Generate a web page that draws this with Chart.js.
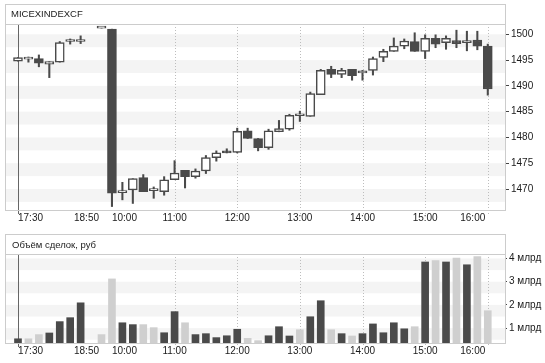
<!DOCTYPE html>
<html><head><meta charset="utf-8">
<script src="https://cdn.jsdelivr.net/npm/chart.js@4"></script>
<style>
html,body{margin:0;padding:0;background:#fff;}
#wrap{position:relative;width:545px;height:363px;overflow:hidden;font-family:'Liberation Sans',Arial,sans-serif;}
.c{position:absolute;left:0;}
.frame{position:absolute;border:1px solid #cccccc;box-sizing:border-box;pointer-events:none;}
.sep{position:absolute;height:1px;background:#cccccc;pointer-events:none;}
.ttl{position:absolute;font-size:9.5px;color:#1a1a1a;line-height:12px;white-space:nowrap;}
</style></head>
<body><div id="wrap">
<div class="c" style="top:0;width:545px;height:230px"><canvas id="top"></canvas></div>
<div class="c" style="top:230px;width:545px;height:133px"><canvas id="vol"></canvas></div>
<div class="frame" style="left:5px;top:4px;width:501px;height:207px"></div>
<div class="sep" style="left:5px;top:24px;width:501px"></div>
<div class="frame" style="left:5px;top:234px;width:501px;height:110px"></div>
<div class="sep" style="left:5px;top:254px;width:501px"></div>
<div class="ttl" style="left:11px;top:8px">MICEXINDEXCF</div>
<div class="ttl" style="left:12px;top:239px">Объём сделок, руб</div>
</div>
<script>
// ---- data ----
const times = ['17:30','17:40','17:50','18:00','18:10','18:20','18:30','18:40','18:50',
  '10:00','10:10','10:20','10:30','10:40','10:50','11:00','11:10','11:20','11:30','11:40','11:50',
  '12:00','12:10','12:20','12:30','12:40','12:50','13:00','13:10','13:20','13:30','13:40','13:50',
  '14:00','14:10','14:20','14:30','14:40','14:50','15:00','15:10','15:20','15:30','15:40','15:50','16:00'];
const open  = [1494.8,1495.2,1495.3,1494.2,1494.6,1498.6,1498.6,null,1501.2,
  1501.0,1469.3,1469.8,1472.2,1469.7,1469.5,1471.8,1473.6,1472.4,1473.5,1476.1,1477.3,
  1477.1,1481.3,1479.8,1478.0,1481.1,1481.6,1484.2,1484.1,1488.3,1493.2,1492.2,1493.2,
  1492.5,1493.0,1495.5,1496.7,1497.7,1498.6,1496.7,1499.2,1498.4,1498.8,1498.4,1498.9,1497.7];
const high  = [1495.5,1495.6,1496.0,1494.7,1498.6,1499.1,1499.7,null,1501.2,
  1501.0,1471.3,1472.0,1472.8,1470.4,1472.4,1475.5,1473.6,1473.9,1476.5,1477.4,1477.8,
  1481.8,1481.8,1479.8,1481.6,1483.3,1484.5,1485.1,1488.8,1493.2,1493.8,1493.4,1493.2,
  1493.0,1495.6,1497.1,1499.3,1499.1,1500.3,1499.9,1499.9,1499.7,1500.8,1500.6,1500.6,1498.1];
const low   = [1494.8,1494.6,1493.7,1491.6,1494.6,1498.1,1498.2,null,1501.2,
  1466.6,1467.9,1467.2,1469.5,1468.2,1468.8,1471.8,1470.2,1472.1,1473.0,1475.4,1477.0,
  1477.0,1479.8,1477.4,1477.7,1481.1,1481.4,1483.1,1484.1,1488.3,1491.6,1491.6,1491.1,
  1491.1,1492.1,1494.7,1496.7,1497.2,1496.7,1495.3,1497.4,1497.1,1497.4,1496.8,1497.0,1488.2];
const close = [1495.5,1495.2,1494.4,1494.7,1498.4,1498.6,1499.0,null,1501.2,
  1469.2,1469.7,1472.0,1469.5,1469.7,1471.8,1473.1,1472.4,1473.5,1476.1,1477.0,1477.0,
  1481.2,1479.8,1478.0,1481.3,1481.7,1484.3,1484.2,1488.5,1493.0,1492.2,1493.0,1492.0,
  1492.9,1495.3,1496.7,1497.7,1498.7,1496.7,1499.2,1498.1,1499.2,1498.2,1498.8,1497.7,1489.4];
// trade volume, billions of roubles
const volume = [0.54,0.54,0.72,0.79,1.28,1.45,2.09,null,0.72,
  3.12,1.23,1.15,1.15,1.02,0.80,1.71,1.23,0.72,0.76,0.59,0.67,
  0.95,0.56,0.46,0.67,1.06,0.66,0.93,1.49,2.18,0.93,0.76,0.66,
  0.76,1.18,0.80,1.23,0.97,1.06,3.85,3.91,3.85,4.02,3.73,4.08,1.75];
const volumeLight = [0,1,1,0,0,0,0,0,1,
  1,0,0,1,1,0,0,1,0,0,0,0,
  0,1,1,0,0,0,1,0,0,1,0,1,
  0,0,0,0,0,1,0,1,0,1,0,1,1];
const priceTicks = [1470,1475,1480,1485,1490,1495,1500];
const volumeTicks = [1,2,3,4];
const xLabelIdx = [0,8,9,15,21,27,33,39,45];
const xLabelAlign = ['left','right','left','center','center','center','center','center','right'];
const solidLineIdx = [0];
const dottedLineIdx = [15,21,27,33,39,45];

// ---- styling ----
const DARK = '#4a4a4a', LIGHT = '#cfcfcf', BAND = '#f4f4f4', TXT = '#1a1a1a';
const FONT = "'Liberation Sans', Arial, sans-serif";
const xMin = -1.245, xMax = 46.65;

const panelPlugin = {
  id: 'panel',
  beforeDatasetsDraw(chart, args, opts) {
    const {ctx, chartArea: a, scales: {x, y}} = chart;
    ctx.save();
    ctx.beginPath(); ctx.rect(a.left, a.top, a.right - a.left, a.bottom - a.top + 6); ctx.clip();
    ctx.fillStyle = BAND;
    opts.bands.forEach(v => {
      const y1 = y.getPixelForValue(v), y2 = y.getPixelForValue(v - opts.half);
      const t = Math.max(a.top, Math.min(y1, y2)), b = Math.min(a.bottom, Math.max(y1, y2));
      if (b > t) ctx.fillRect(a.left, t, a.right - a.left, b - t);
    });
    ctx.lineWidth = 1;
    ctx.strokeStyle = '#bdbdbd'; ctx.setLineDash([1, 2]);
    dottedLineIdx.forEach(i => {
      const px = Math.round(x.getPixelForValue(i)) + 0.5;
      ctx.beginPath(); ctx.moveTo(px, a.top); ctx.lineTo(px, a.bottom + 4); ctx.stroke();
    });
    ctx.setLineDash([]); ctx.strokeStyle = '#666666';
    solidLineIdx.forEach(i => {
      const px = Math.round(x.getPixelForValue(i)) + 0.5;
      ctx.beginPath(); ctx.moveTo(px, a.top); ctx.lineTo(px, a.bottom + 4); ctx.stroke();
    });
    ctx.restore();
  },
  afterDraw(chart) {
    const {ctx, chartArea: a, scales: {x}} = chart;
    ctx.save();
    ctx.font = '10px ' + FONT; ctx.fillStyle = TXT; ctx.textBaseline = 'middle';
    xLabelIdx.forEach((i, k) => {
      const al = xLabelAlign[k];
      let px = x.getPixelForValue(i);
      if (al === 'right') px -= 2.5;
      ctx.textAlign = al;
      ctx.fillText(times[i], px, a.bottom + 8);
    });
    ctx.restore();
  }
};

const wicks = [], bodies = [], bodyFill = [];
times.forEach((t, i) => {
  if (open[i] == null) return;
  wicks.push({x: i, y: [low[i], high[i]]});
  bodies.push({x: i, y: [open[i], close[i]]});
  bodyFill.push(close[i] < open[i] ? DARK : '#ffffff');
});
const volData = [], volColor = [];
times.forEach((t, i) => {
  if (volume[i] == null) return;
  volData.push({x: i, y: volume[i]});
  volColor.push(volumeLight[i] ? LIGHT : DARK);
});

function yAxis(min, max, ticks, fmt, tickLen) {
  return {
    position: 'right', min, max,
    afterFit(s) { s.width = 40; },
    afterBuildTicks(s) { s.ticks = ticks.map(v => ({value: v})); },
    ticks: {callback: fmt, color: TXT, font: {family: FONT, size: 10}, padding: 2},
    grid: {drawOnChartArea: false, drawTicks: true, tickLength: tickLen, color: '#444444', lineWidth: 1},
    border: {display: false}
  };
}
const xAxis = () => ({type: 'linear', min: xMin, max: xMax, offset: false, bounds: 'data', display: false,
  grid: {offset: false}});
const common = {
  responsive: true, maintainAspectRatio: false, animation: false, devicePixelRatio: 1,
  layout: {padding: {top: 24, bottom: 20, left: 5, right: 0}},
};

new Chart(document.getElementById('top'), {
  type: 'bar',
  data: {datasets: [
    {data: bodies, backgroundColor: bodyFill, borderColor: DARK, borderWidth: 1.5, borderSkipped: false,
     barThickness: 9, minBarLength: 2, grouped: false, order: 1},
    {data: wicks, backgroundColor: DARK, borderWidth: 0, barThickness: 1.4, grouped: false, order: 2}
  ]},
  options: Object.assign({}, common, {
    plugins: {legend: {display: false}, tooltip: {enabled: false},
      panel: {bands: priceTicks, half: 2.5}},
    scales: {
      x: xAxis(),
      y: yAxis(1465.93, 1502.0, priceTicks, v => String(v), 4)
    }
  }),
  plugins: [panelPlugin]
});

new Chart(document.getElementById('vol'), {
  type: 'bar',
  data: {datasets: [
    {data: volData, backgroundColor: volColor, borderWidth: 0, barThickness: 7, grouped: false}
  ]},
  options: Object.assign({}, common, {
    plugins: {legend: {display: false}, tooltip: {enabled: false},
      panel: {bands: volumeTicks, half: 0.5}},
    scales: {
      x: xAxis(),
      y: yAxis(0.358, 4.194, volumeTicks, v => v + ' млрд', 2)
    }
  }),
  plugins: [panelPlugin]
});
</script>
</body></html>
